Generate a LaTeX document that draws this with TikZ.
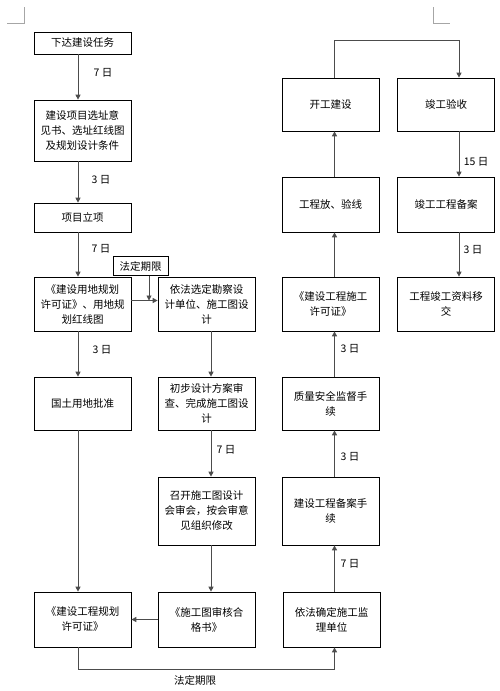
\documentclass[tikz,border=0pt]{standalone}
\usepackage{fontspec}
\setmainfont{Noto Sans CJK SC}
\usetikzlibrary{arrows.meta}
\begin{document}
\begin{tikzpicture}[x=1pt,y=-1pt,
  box/.style={draw=black, line width=0.7pt, minimum width=97pt, align=center, inner sep=2pt, font=\fontsize{10.5}{15}\selectfont},
  arr/.style={draw=black!70, line width=0.9pt, -{Triangle[length=5pt,width=5pt]}},
  lbl/.style={font=\fontsize{10.5}{12}\selectfont, inner sep=0pt},
  cornermark/.style={draw=black!35, line width=0.6pt}]
\useasboundingbox (0,0) rectangle (500,691);
% corner marks
\coordinate (m1a) at (7,23); \coordinate (m1b) at (24,23); \coordinate (m1c) at (24,7);
\draw[cornermark] (m1a) -- (m1b) -- (m1c);
\coordinate (m2a) at (433,7); \coordinate (m2b) at (433,23); \coordinate (m2c) at (450,23);
\draw[cornermark] (m2a) -- (m2b) -- (m2c);
% column x coordinates for connectors
\coordinate (cL) at (78,0);
\coordinate (cM) at (211,0);
\coordinate (cR) at (334.5,0);
\coordinate (cRR) at (459,0);
\coordinate (cF) at (149,0);
% left column
\node[box, minimum height=22pt] (b1) at (82.5,43) {下达建设任务};
\node[box, minimum height=61pt] (b2) at (82.5,130.5) {建设项目选址意\\见书、选址红线图\\及规划设计条件};
\node[box, minimum height=29pt] (b3) at (82.5,217.5) {项目立项};
\node[box, minimum height=54pt] (b4) at (82.5,304) {《建设用地规划\\许可证》、用地规\\划红线图};
\node[box, minimum height=53pt] (b6) at (82.5,403.5) {国土用地批准};
\node[box, minimum height=55pt] (b9) at (82.5,619.5) {《建设工程规划\\许可证》};
% middle column
\node[box, minimum height=54pt] (b5) at (206.5,304) {依法选定勘察设\\计单位、施工图设\\计};
\node[box, minimum width=55pt, minimum height=19pt] (fd) at (140.5,266) {法定期限};
\node[box, minimum height=53pt] (b7) at (206.5,403.5) {初步设计方案审\\查、完成施工图设\\计};
\node[box, minimum height=68pt] (b8) at (206.5,511) {召开施工图设计\\会审会，按会审意\\见组织修改};
\node[box, minimum height=55pt] (b10) at (206.5,619.5) {《施工图审核合\\格书》};
% right column
\node[box, minimum height=55pt] (b11) at (331.5,619.5) {依法确定施工监\\理单位};
\node[box, minimum height=68pt] (b12) at (330.5,511) {建设工程备案手\\续};
\node[box, minimum height=53pt] (b13) at (330.5,403.5) {质量安全监督手\\续};
\node[box, minimum height=54pt] (b14) at (330.5,304) {《建设工程施工\\许可证》};
\node[box, minimum height=55pt] (b15) at (330.5,204.5) {工程放、验线};
\node[box, minimum height=53pt] (b16) at (330.5,104.5) {开工建设};
% far right column
\node[box, minimum height=53pt] (b17) at (446,104.5) {竣工验收};
\node[box, minimum height=55pt] (b18) at (446,204.5) {竣工工程备案};
\node[box, minimum height=54pt] (b19) at (446,304) {工程竣工资料移\\交};
% connectors left
\draw[arr] (b1.south -| cL) -- (b2.north -| cL);
\draw[arr] (b2.south -| cL) -- (b3.north -| cL);
\draw[arr] (b3.south -| cL) -- (b4.north -| cL);
\draw[arr] (b4.south -| cL) -- (b6.north -| cL);
\draw[arr] (b6.south -| cL) -- (b9.north -| cL);
% box4 -> box5 and legal limit
\coordinate (hz) at (0,300.5);
\draw[arr] (b4.east |- hz) -- (b5.west |- hz);
\draw[arr] (fd.south -| cF) -- (cF |- hz);
% middle
\draw[arr] (b5.south -| cM) -- (b7.north -| cM);
\draw[arr] (b7.south -| cM) -- (b8.north -| cM);
\draw[arr] (b8.south -| cM) -- (b10.north -| cM);
\draw[arr] (b10.west) -- (b9.east);
% bottom loop
\coordinate (cBot) at (0,669);
\draw[arr] (b9.south -| cL) -- (cL |- cBot) -- (cR |- cBot) -- (b11.south -| cR);
% right column upward
\draw[arr] (b11.north -| cR) -- (b12.south -| cR);
\draw[arr] (b12.north -| cR) -- (b13.south -| cR);
\draw[arr] (b13.north -| cR) -- (b14.south -| cR);
\draw[arr] (b14.north -| cR) -- (b15.south -| cR);
\draw[arr] (b15.north -| cR) -- (b16.south -| cR);
% top connector
\coordinate (cTop) at (0,40);
\draw[arr] (b16.north -| cR) -- (cR |- cTop) -- (cRR |- cTop) -- (b17.north -| cRR);
% far right downward
\draw[arr] (b17.south -| cRR) -- (b18.north -| cRR);
\draw[arr] (b18.south -| cRR) -- (b19.north -| cRR);
% labels
\node[lbl] (l1) at (103,73) {7 日};
\node[lbl] (l2) at (101,180) {3 日};
\node[lbl] (l3) at (101,249) {7 日};
\node[lbl] (l4) at (102,350) {3 日};
\node[lbl] (l5) at (226,450) {7 日};
\node[lbl] (l6) at (350,564) {7 日};
\node[lbl] (l7) at (350,457) {3 日};
\node[lbl] (l8) at (350,349) {3 日};
\node[lbl] (l9) at (476,162) {15 日};
\node[lbl] (l10) at (473,250) {3 日};
\node[lbl] (l11) at (195,680) {法定期限};
\end{tikzpicture}
\end{document}
